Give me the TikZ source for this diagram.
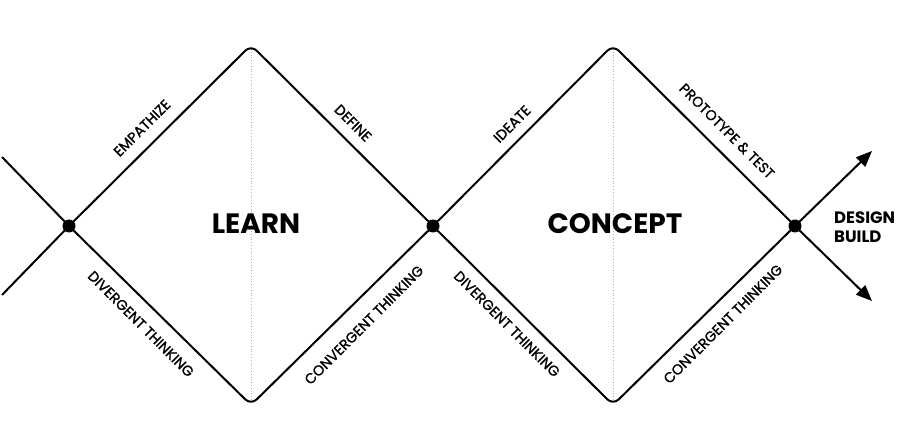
\documentclass[tikz,border=0pt]{standalone}
\usepackage{fontspec}
\setmainfont{Poppins}
\newfontfamily\labfont[FakeBold=1.2]{Poppins}
\usetikzlibrary{arrows.meta}
\begin{document}
\begin{tikzpicture}[x=1pt,y=1pt,
  edge/.style={line width=2pt, line join=round},
  dot/.style={circle, fill=black, inner sep=0pt, minimum size=13pt},
  lab/.style={font=\labfont\fontsize{14.2}{14.2}\selectfont, inner sep=0pt},
  big/.style={font=\bfseries\fontsize{28}{28}\selectfont, inner sep=0pt},
  guide/.style={draw=black!30, dotted, line width=0.8pt, shorten <=4pt, shorten >=4pt}]
\useasboundingbox (0,0) rectangle (897,445);
\coordinate (l1) at (2,288);
\coordinate (l2) at (2,150);
\coordinate (t1) at (251,400);
\coordinate (b1) at (251,40);
\coordinate (t2) at (613,400);
\coordinate (b2) at (613,40);
\coordinate (a1) at (872,294);
\coordinate (a2) at (872,144);
\node[dot] (n1) at (69,219) {};
\node[dot] (n2) at (433,219) {};
\node[dot] (n3) at (795,219) {};
\draw[guide] (t1) -- (b1);
\draw[guide] (t2) -- (b2);
\draw[edge] (l1) -- (n1.center) -- (l2);
\draw[edge, rounded corners=8pt] (n1.center) -- (t1) -- (n2.center) -- (t2) -- (n3.center);
\draw[edge, rounded corners=8pt] (n1.center) -- (b1) -- (n2.center) -- (b2) -- (n3.center);
\draw[edge, -{Triangle[length=16pt,width=13pt]}] (n3.center) -- (a1);
\draw[edge, -{Triangle[length=16pt,width=13pt]}] (n3.center) -- (a2);
\node[big] (learn) at (256,221) {LEARN};
\node[big] (concept) at (615,221) {CONCEPT};
\node[anchor=west, align=left, inner sep=0pt, font=\bfseries\fontsize{16.5}{19.6}\selectfont] (db) at (834,218) {DESIGN\\BUILD};
\node[lab, rotate=45] (emp) at (142,317) {EMPATHIZE};
\node[lab, rotate=-45] (def) at (353,322) {DEFINE};
\node[lab, rotate=45] (ide) at (512,321) {IDEATE};
\node[lab, rotate=-45] (pro) at (727,314) {PROTOTYPE \& TEST};
\node[lab, rotate=-45] (div1) at (141,121) {DIVERGENT THINKING};
\node[lab, rotate=45] (con1) at (364,120) {CONVERGENT THINKING};
\node[lab, rotate=-45] (div2) at (507,121) {DIVERGENT THINKING};
\node[lab, rotate=45] (con2) at (723,121) {CONVERGENT THINKING};
\end{tikzpicture}
\end{document}
